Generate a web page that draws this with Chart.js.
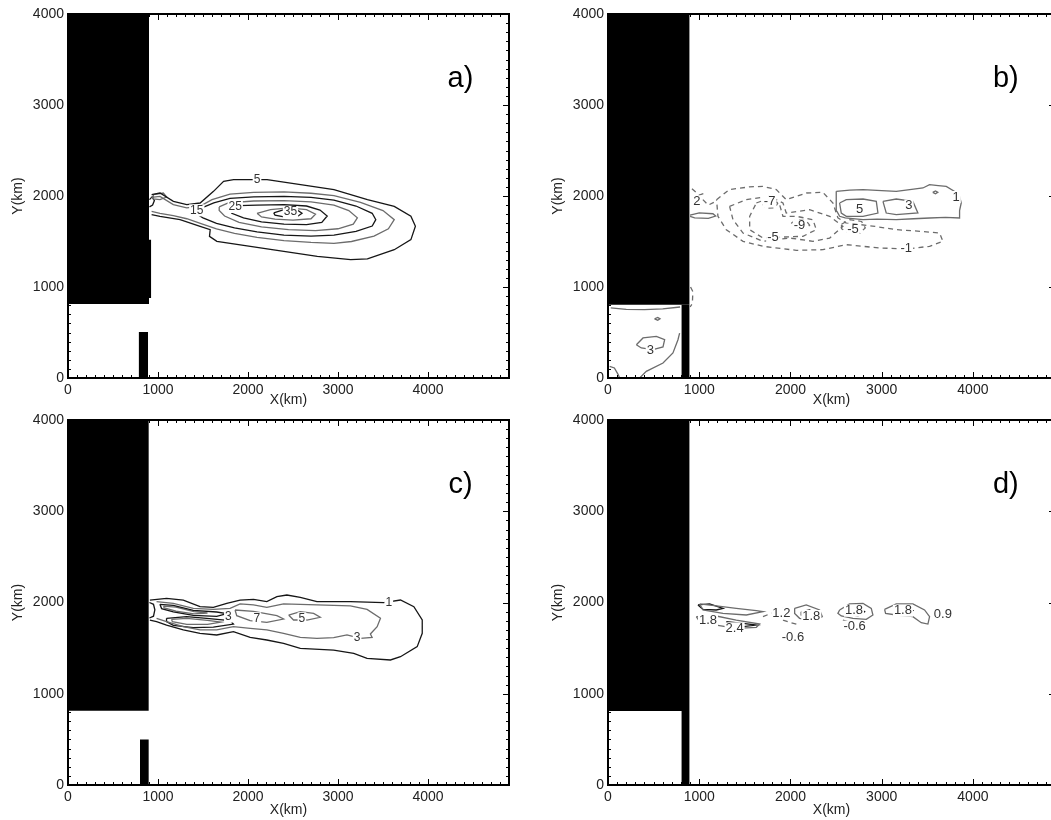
<!DOCTYPE html>
<html>
<head>
<meta charset="utf-8">
<script src="https://cdn.jsdelivr.net/npm/chart.js@4.4.1/dist/chart.umd.min.js"></script>
<style>
  html, body { margin: 0; padding: 0; background: #fff; overflow: hidden; width: 1051px; height: 820px; }
  canvas { position: absolute; }
</style>
</head>
<body>
<canvas id="pa" width="520" height="410" style="left:0px;top:0px"></canvas>
<canvas id="pb" width="517" height="410" style="left:540px;top:0px"></canvas>
<canvas id="pc" width="520" height="414" style="left:0px;top:406px"></canvas>
<canvas id="pd" width="517" height="414" style="left:540px;top:406px"></canvas>
<script>
// axes (km)
const X_MAX = 4900;
const Y_MAX = 4000;
const xTickVals = [0, 1000, 2000, 3000, 4000];
const yTickVals = [0, 1000, 2000, 3000, 4000];

// land masks: [x0, x1, y0, y1]
const landA = [[0, 900, 813, 4000], [785, 890, 0, 505], [900, 925, 880, 1520]];
const landB = [[0, 895, 806, 4000], [804, 895, 0, 806]];
const landC = [[0, 898, 815, 4000], [800, 898, 0, 500]];
const landD = [[0, 895, 811, 4000], [804, 895, 0, 811]];

// ---- panel a) contours [x, y] in km
const a5 = [[929,2015],[1022,2033],[1171,1941],[1320,1905],[1468,1923],[1617,2051],[1729,2161],[1840,2179],[2063,2179],[2212,2179],[2584,2125],[2955,2070],[3327,1960],[3625,1886],[3810,1777],[3860,1667],[3810,1520],[3625,1410],[3327,1308],[3141,1300],[2770,1337],[2398,1392],[2026,1447],[1654,1502],[1572,1557],[1580,1630],[1468,1667],[1245,1740],[1022,1777],[929,1795]];
const a10 = [[929,1985],[1022,1995],[1170,1905],[1320,1870],[1470,1890],[1600,1960],[1800,2020],[2063,2040],[2400,2045],[2700,2030],[2955,2005],[3250,1930],[3500,1840],[3625,1740],[3560,1640],[3400,1560],[3150,1500],[2955,1480],[2700,1490],[2400,1510],[2100,1545],[1850,1590],[1650,1640],[1470,1700],[1320,1750],[1170,1785],[1022,1810],[929,1830]];
const a15 = [[1440,1840],[1500,1875],[1620,1925],[1800,1975],[2063,1990],[2400,1995],[2700,1985],[2955,1955],[3200,1890],[3380,1810],[3420,1740],[3380,1670],[3200,1610],[2955,1570],[2700,1560],[2400,1570],[2100,1605],[1850,1650],[1650,1700],[1500,1760],[1450,1790],[1440,1840]];
const a20 = [[1680,1880],[1780,1925],[2063,1945],[2400,1950],[2700,1935],[2955,1900],[3120,1840],[3215,1760],[3170,1690],[3000,1640],[2750,1620],[2450,1630],[2150,1660],[1900,1710],[1740,1780],[1680,1840],[1680,1880]];
const a25 = [[1800,1860],[1900,1895],[2100,1900],[2400,1905],[2650,1890],[2800,1845],[2880,1780],[2820,1710],[2650,1685],[2400,1690],[2150,1715],[1950,1760],[1820,1810],[1800,1860]];
const a30 = [[2100,1810],[2250,1850],[2450,1870],[2650,1850],[2750,1800],[2700,1750],[2500,1735],[2300,1745],[2150,1770],[2100,1810]];
const a35 = [[2286,1815],[2400,1850],[2550,1845],[2600,1810],[2550,1775],[2400,1770],[2300,1790],[2286,1815]];
const aIsle = [[948,2015],[1059,2033],[1096,1989],[1022,1960],[948,1967],[948,2015]];
const aCoast = [[905,1880],[940,1900],[960,1950],[935,1990],[905,1960]];
const labelsA = [['5',2100,2180],['15',1431,1842],['25',1858,1879],['35',2472,1824]];

// ---- panel b) contours
const bPos1 = [[2502,2051],[2650,2065],[2795,2069],[3000,2060],[3160,2051],[3350,2075],[3452,2088],[3525,2124],[3620,2115],[3708,2106],[3800,2050],[3854,1996],[3872,1923],[3854,1840],[3854,1758],[3700,1765],[3525,1758],[3350,1750],[3160,1740],[2950,1745],[2795,1740],[2600,1760],[2539,1777],[2510,1830],[2502,1886],[2502,2051]];
const bPos5 = [[2539,1923],[2612,1960],[2795,1967],[2941,1941],[2959,1813],[2795,1777],[2612,1777],[2557,1813],[2539,1923]];
const bPos3 = [[3014,1941],[3160,1967],[3342,1941],[3397,1813],[3160,1795],[3050,1813],[3014,1941]];
const bTiny = [[3560,2040],[3590,2055],[3615,2040],[3590,2025],[3560,2040]];
const bCoastLoop = [[900,1790],[1000,1815],[1150,1805],[1180,1780],[1100,1755],[950,1760],[900,1775]];
const bNeg1 = [[1190,1960],[1330,2070],[1550,2100],[1700,2106],[1845,2070],[1954,1960],[2050,1990],[2174,2033],[2356,2040],[2466,1923],[2520,1760],[2612,1703],[2900,1670],[3160,1630],[3450,1610],[3635,1593],[3671,1502],[3525,1447],[3269,1418],[2977,1429],[2612,1465],[2356,1410],[2064,1403],[1699,1447],[1480,1502],[1297,1630],[1205,1777],[1190,1960]];
const bNeg3 = [[1333,1886],[1516,1960],[1772,1996],[1918,1923],[1954,1813],[2210,1850],[2430,1777],[2575,1667],[2430,1538],[2247,1502],[1991,1538],[1699,1502],[1480,1593],[1370,1740],[1333,1886]];
const bNeg5 = [[1626,1923],[1772,1978],[1881,1905],[1918,1777],[2064,1777],[2247,1740],[2283,1630],[2137,1557],[1918,1549],[1699,1538],[1553,1630],[1553,1777],[1626,1923]];
const bNeg7 = [[1700,1900],[1740,1960],[1820,1975],[1860,1920],[1830,1870],[1740,1865],[1700,1900]];
const bNeg9 = [[2010,1700],[2060,1740],[2170,1730],[2210,1680],[2160,1630],[2050,1630],[2010,1700]];
const bNeg5b = [[2560,1690],[2650,1740],[2780,1720],[2820,1650],[2760,1590],[2640,1590],[2560,1640],[2560,1690]];
const bCoastDash1 = [[920,2080],[1000,2010],[1060,2030]];
const bCoastDash2 = [[1040,1960],[1100,1900],[1160,1930]];
const bCoastStrip = [[905,1000],[930,950],[925,820],[900,780]];
const bBoxTop = [[30,770],[200,755],[400,752],[600,760],[790,780]];
const bBox3 = [[311,366],[384,440],[530,458],[621,421],[603,341],[493,311],[365,330],[311,366]];
const bBoxDiag = [[347,0],[420,73],[603,165],[712,275],[767,421],[785,494]];
const bBoxArc = [[18,128],[70,110],[110,40],[128,0]];
const bBoxDot = [[510,650],[545,665],[570,650],[545,635],[510,650]];
const labelsB = [['-7',1772,1941],['-9',2100,1674],['-5',1808,1549],['-5',2685,1630],['-1',3269,1429],['1',3817,1989],['3',3299,1894],['5',2758,1857],['3',464,300],['2',975,1940]];

// ---- panel c) contours
const c1 = [[910,2027],[1095,2046],[1281,2027],[1467,1954],[1615,1947],[1764,1991],[1912,2027],[2061,2035],[2209,2009],[2321,2064],[2432,2082],[2581,2057],[2766,2009],[3137,2009],[3509,1998],[3694,2027],[3843,1954],[3936,1808],[3936,1662],[3880,1516],[3694,1406],[3583,1370],[3323,1388],[3175,1443],[2952,1479],[2581,1498],[2395,1553],[2209,1589],[2024,1618],[1838,1680],[1652,1644],[1467,1662],[1281,1699],[1095,1753],[984,1790],[910,1808]];
const c3 = [[984,2009],[1170,1991],[1392,1936],[1615,1925],[1801,1936],[1912,1984],[2061,1973],[2209,1947],[2395,1984],[2766,1973],[3137,1962],[3323,1925],[3472,1827],[3435,1735],[3360,1655],[3379,1618],[3249,1607],[3100,1644],[2952,1615],[2766,1607],[2581,1618],[2395,1662],[2209,1699],[2024,1717],[1838,1735],[1652,1699],[1467,1699],[1281,1735],[1095,1790],[984,1827]];
const c5u = [[1021,1980],[1170,1969],[1392,1914],[1652,1896],[1764,1878],[1652,1848],[1392,1859],[1170,1896],[1040,1933],[1021,1980]];
const c5l = [[1095,1827],[1318,1845],[1541,1827],[1801,1801],[1838,1764],[1615,1730],[1392,1725],[1170,1750],[1095,1790],[1095,1827]];
const c7u = [[1060,1960],[1200,1950],[1400,1900],[1550,1885],[1400,1875],[1200,1905],[1070,1940],[1060,1960]];
const c7l = [[1150,1815],[1320,1825],[1550,1805],[1700,1785],[1550,1760],[1320,1760],[1160,1790],[1150,1815]];
const c7 = [[1856,1918],[2061,1903],[2321,1856],[2395,1819],[2209,1783],[2024,1801],[1875,1856],[1856,1918]];
const c5b = [[2451,1863],[2581,1900],[2729,1881],[2803,1838],[2655,1808],[2506,1808],[2451,1863]];
const cCoast = [[905,2000],[950,1980],[965,1920],[950,1850],[905,1830]];
const labelsC = [['1',3564,1998],['3',3212,1615],['3',1782,1845],['7',2098,1827],['5',2599,1827]];

// ---- panel d) contours
const dUpG = [[1005,1984],[1187,1962],[1406,1936],[1626,1911],[1699,1900],[1516,1863],[1260,1881],[1041,1918],[1005,1984]];
const dUpK = [[986,1973],[1114,1984],[1260,1936],[1187,1918],[1041,1925],[986,1973]];
const dLowG = [[968,1845],[1187,1852],[1406,1808],[1662,1764],[1626,1728],[1406,1717],[1187,1753],[1005,1790],[968,1845]];
const dLowK = [[1297,1790],[1479,1772],[1626,1753],[1479,1735],[1315,1761],[1297,1790]];
const d18a = [[2046,1936],[2173,1973],[2320,1918],[2349,1845],[2247,1801],[2100,1827],[2046,1881],[2046,1936]];
const d18aIn = [[2119,1900],[2210,1918],[2283,1874],[2210,1838],[2119,1863],[2119,1900]];
const d18b = [[2539,1918],[2648,1984],[2795,1991],[2886,1936],[2904,1863],[2831,1816],[2685,1827],[2557,1852],[2520,1881],[2539,1918]];
const d18bIn = [[2612,1925],[2740,1954],[2813,1900],[2740,1852],[2630,1874],[2612,1925]];
const d18c = [[3032,1925],[3160,1984],[3342,1984],[3470,1918],[3525,1845],[3507,1764],[3434,1779],[3342,1845],[3160,1863],[3043,1881],[3032,1925]];
const d18cIn = [[3142,1936],[3269,1954],[3342,1911],[3269,1863],[3160,1881],[3142,1936]];
const dNeg1 = [[1699,1845],[1810,1890],[1918,1936]];
const dNeg2 = [[1918,1808],[2000,1780],[2100,1753]];
const dNeg3 = [[1960,1600],[2050,1640]];
const dNeg4 = [[2575,1808],[2640,1785],[2700,1770]];
const labelsD = [['1.8',1096,1801],['2.4',1388,1717],['1.2',1900,1881],['1.8',2228,1852],['-0.6',2027,1618],['1.8',2696,1910],['-0.6',2703,1735],['1.8',3233,1910],['0.9',3671,1874]];

const K = '#161616';
const G = '#6c6c6c';
const FONT = '"Liberation Sans", Arial, sans-serif';

function pts(list) {
  return list.map(p => ({ x: p[0], y: p[1] }));
}

function contour(list, color, dashed) {
  return {
    data: pts(list),
    borderColor: color,
    borderWidth: 1.3,
    borderDash: dashed ? [5, 4] : [],
    pointRadius: 0,
    fill: false,
    tension: 0,
    order: 1
  };
}

function land(r) {
  return {
    data: [{ x: r[0], y: r[3] }, { x: r[1], y: r[3] }],
    borderWidth: 0,
    borderColor: '#000',
    backgroundColor: '#000',
    pointRadius: 0,
    fill: { value: r[2] },
    order: 5
  };
}

// frame, inward ticks, contour labels, panel letter
const framePlugin = {
  id: 'frame',
  afterDatasetsDraw(chart, args, opt) {
    const { ctx, chartArea: ca, scales: { x, y } } = chart;
    ctx.save();

    ctx.font = (opt.labelSize || 12) + 'px ' + FONT;
    ctx.textAlign = 'center';
    ctx.textBaseline = 'middle';
    (opt.labels || []).forEach(([t, vx, vy]) => {
      const px = x.getPixelForValue(vx);
      const py = y.getPixelForValue(vy);
      const w = ctx.measureText(t).width;
      ctx.fillStyle = '#fff';
      ctx.fillRect(px - w / 2 - 1, py - 6, w + 2, 12);
      ctx.fillStyle = '#333';
      ctx.fillText(t, px, py);
    });

    ctx.strokeStyle = '#000';
    ctx.lineWidth = 1;
    ctx.beginPath();
    for (let v = 0; v <= X_MAX; v += 100) {
      const px = Math.round(x.getPixelForValue(v)) + 0.5;
      const len = v % 1000 ? 3 : 6;
      ctx.moveTo(px, ca.bottom); ctx.lineTo(px, ca.bottom - len);
      ctx.moveTo(px, ca.top); ctx.lineTo(px, ca.top + len);
    }
    for (let v = 0; v <= Y_MAX; v += 100) {
      const py = Math.round(y.getPixelForValue(v)) + 0.5;
      const len = v % 1000 ? 3 : 6;
      ctx.moveTo(ca.left, py); ctx.lineTo(ca.left + len, py);
      ctx.moveTo(ca.right, py); ctx.lineTo(ca.right - len, py);
    }
    ctx.stroke();
    ctx.lineWidth = 2;
    ctx.strokeRect(ca.left, ca.top, ca.width, ca.height);

    ctx.font = '29px ' + FONT;
    ctx.fillStyle = '#000';
    ctx.textAlign = 'center';
    ctx.textBaseline = 'alphabetic';
    ctx.fillText(opt.letter, ca.left + ca.width * 0.89, ca.top + 73);
    ctx.restore();
  }
};

function makePanel(id, lands, sets, labels, letter, padRight, xAxisH, labelSize) {
  const tickFont = { family: FONT, size: 14 };
  new Chart(document.getElementById(id), {
    type: 'line',
    data: { datasets: sets.concat(lands.map(land)) },
    options: {
      responsive: false,
      animation: false,
      events: [],
      layout: { padding: { top: 14, right: padRight, left: 0, bottom: 0 } },
      plugins: {
        legend: { display: false },
        tooltip: { enabled: false },
        frame: { labels: labels, letter: letter, labelSize: labelSize }
      },
      scales: {
        x: {
          type: 'linear',
          min: 0,
          max: X_MAX,
          afterBuildTicks: s => { s.ticks = xTickVals.map(v => ({ value: v })); },
          afterFit: s => { s.height = xAxisH; },
          grid: { display: false, drawTicks: false },
          border: { display: false },
          ticks: { font: tickFont, color: '#222', padding: 4, maxRotation: 0, autoSkip: false, callback: v => String(v) },
          title: { display: true, text: 'X(km)', font: tickFont, color: '#222', padding: { top: 0, bottom: 1 } }
        },
        y: {
          type: 'linear',
          min: 0,
          max: Y_MAX,
          afterBuildTicks: s => { s.ticks = yTickVals.map(v => ({ value: v })); },
          afterFit: s => { s.width = 68; },
          grid: { display: false, drawTicks: false },
          border: { display: false },
          ticks: { font: tickFont, color: '#222', padding: 4, autoSkip: false, callback: v => String(v) },
          title: { display: true, text: 'Y(km)', font: tickFont, color: '#222', padding: { top: 10, bottom: 0 } }
        }
      }
    },
    plugins: [framePlugin]
  });
}

makePanel('pa', landA, [
  contour(a5, K), contour(a10, G), contour(a15, K), contour(a20, G),
  contour(a25, K), contour(a30, G), contour(a35, K), contour(aIsle, G), contour(aCoast, K)
], labelsA, 'a)', 11, 32, 12);

makePanel('pb', landB, [
  contour(bPos1, G), contour(bPos5, G), contour(bPos3, G), contour(bTiny, G), contour(bCoastLoop, G),
  contour(bNeg1, G, true), contour(bNeg3, G, true), contour(bNeg5, G, true), contour(bNeg7, G, true),
  contour(bNeg9, G, true), contour(bNeg5b, G, true), contour(bCoastDash1, G, true), contour(bCoastDash2, G, true),
  contour(bCoastStrip, G, true), contour(bBoxTop, G), contour(bBox3, G), contour(bBoxDiag, G),
  contour(bBoxArc, G), contour(bBoxDot, G)
], labelsB, 'b)', 2, 32, 13);

makePanel('pc', landC, [
  contour(c1, K), contour(c3, G), contour(c5u, K), contour(c5l, K), contour(c7u, G), contour(c7l, G),
  contour(c7, G), contour(c5b, G), contour(cCoast, K)
], labelsC, 'c)', 11, 35, 12);

makePanel('pd', landD, [
  contour(dUpG, G), contour(dUpK, K), contour(dLowG, G), contour(dLowK, K),
  contour(d18a, G), contour(d18aIn, K), contour(d18b, G), contour(d18bIn, K), contour(d18c, G), contour(d18cIn, K),
  contour(dNeg1, G, true), contour(dNeg2, G, true), contour(dNeg3, G, true), contour(dNeg4, G, true)
], labelsD, 'd)', 2, 35, 13);
</script>
</body>
</html>
